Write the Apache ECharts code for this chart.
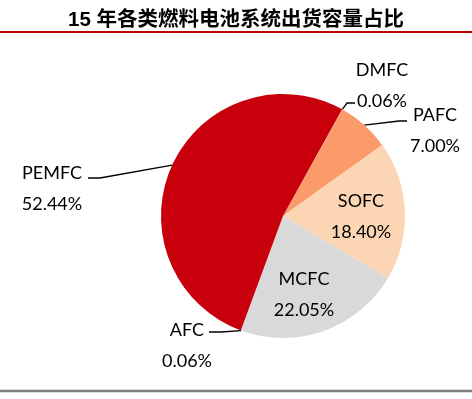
<!DOCTYPE html>
<html>
<head>
<meta charset="utf-8">
<script src="https://cdn.jsdelivr.net/npm/echarts@6/dist/echarts.min.js"></script>
<style>
  html, body { margin: 0; padding: 0; background: #fff; }
  #chart { width: 472px; height: 399px; }
</style>
</head>
<body>
<div id="chart"></div>
<script>
  // 数据（顺时针，从 DMFC 开始）
  var names = ['DMFC', 'PAFC', 'SOFC', 'MCFC', 'AFC', 'PEMFC'];
  var shares = [0.06, 7.00, 18.40, 22.05, 0.06, 52.44];
  var colors = ['#F4A57A', '#FB9B6A', '#FCD5B4', '#D9D9D9', '#C8C8C8', '#C7000B'];
  var insideLabels = ['SOFC', 'MCFC'];

  // 标签位置（文字块中心）与引线末端
  var labelPos = {
    DMFC:  { x: 382, y: 86,  end: [355, 103], mid: [347, 103] },
    PAFC:  { x: 435, y: 131, end: [407, 121], mid: [399, 121] },
    SOFC:  { x: 361, y: 217 },
    MCFC:  { x: 304, y: 295 },
    AFC:   { x: 187, y: 346, end: [209, 332], mid: [221, 332] },
    PEMFC: { x: 52,  y: 189, end: [88, 178],  mid: [100, 178] }
  };

  var chart = echarts.init(document.getElementById('chart'));

  var seriesData = names.map(function (n, i) {
    var inside = insideLabels.indexOf(n) >= 0;
    return {
      name: n,
      value: shares[i],
      itemStyle: { color: colors[i] },
      label: { position: inside ? 'inside' : 'outside' },
      labelLine: { show: !inside }
    };
  });

  chart.setOption({
    animation: false,
    title: {
      text: '15 年各类燃料电池系统出货容量占比',
      left: 'center',
      top: 5,
      textStyle: {
        fontFamily: '"Liberation Sans", "Noto Sans CJK SC"',
        fontSize: 20.5,
        fontWeight: 'bold',
        color: '#000'
      }
    },
    graphic: [
      { type: 'line', shape: { x1: 0, y1: 32, x2: 472, y2: 32 }, style: { stroke: '#C00000', lineWidth: 2 } },
      { type: 'line', shape: { x1: 0, y1: 391, x2: 472, y2: 391 }, style: { stroke: '#7F7F7F', lineWidth: 2.5 } }
    ],
    series: [{
      type: 'pie',
      center: [283, 216],
      radius: 122,
      startAngle: 61,
      clockwise: true,
      avoidLabelOverlap: false,
      data: seriesData,
      label: {
        show: true,
        fontFamily: 'Lato',
        fontSize: 18,
        lineHeight: 31,
        color: '#000',
        formatter: function (p) { return p.name + '\n' + p.value.toFixed(2) + '%'; }
      },
      labelLine: {
        show: true,
        lineStyle: { color: '#000', width: 1.3 }
      },
      labelLayout: function (params) {
        var n = names[params.dataIndex];
        var pos = labelPos[n];
        var out = { x: pos.x, y: pos.y, align: 'center', verticalAlign: 'middle' };
        if (pos.end && params.labelLinePoints) {
          var start = params.labelLinePoints[0];
          out.labelLinePoints = [[start[0], start[1]], pos.mid, pos.end];
        }
        return out;
      }
    }]
  });
</script>
</body>
</html>
